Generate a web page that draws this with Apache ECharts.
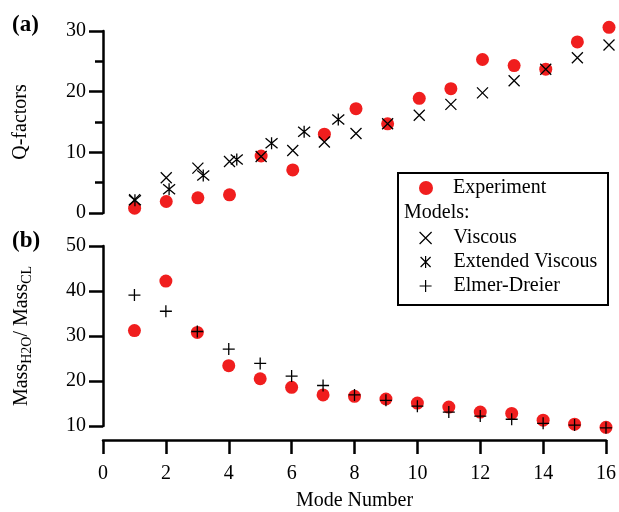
<!DOCTYPE html>
<html>
<head>
<meta charset="utf-8">
<script src="https://cdn.jsdelivr.net/npm/echarts@6/dist/echarts.min.js"></script>
<style>
  html, body { margin: 0; padding: 0; background: #fff; }
  #chart { width: 619px; height: 512px; }
</style>
</head>
<body>
<div id="chart"></div>
<script>
const FONT = 'Liberation Serif'
const RED = '#f01e1e'

// mode numbers shared by most series
const modes = [1, 2, 3, 4, 5, 6, 7, 8, 9, 10, 11, 12, 13, 14, 15, 16]

// (a) Q-factors
const qExperiment = [0.8, 1.9, 2.5, 3.0, 9.4, 7.1, 13.0, 17.2, 14.7, 18.9, 20.5, 25.3, 24.3, 23.7, 28.2, 30.6]
const qViscous = [2.2, 5.8, 7.4, 8.5, 9.3, 10.3, 11.7, 13.1, 14.7, 16.1, 17.9, 19.8, 21.8, 23.7, 25.6, 27.7]
const extModes = [1.01, 2.09, 3.17, 4.23, 5.33, 6.36, 7.44]
const qExtViscous = [2.1, 3.9, 6.2, 8.8, 11.5, 13.4, 15.4]

// (b) mass ratio
const massExperiment = [31.2, 42.2, 30.8, 23.4, 20.5, 18.6, 16.9, 16.6, 16.0, 15.1, 14.2, 13.1, 12.8, 11.3, 10.4, 9.7]
const massElmerDreier = [39.1, 35.5, 31.0, 27.1, 23.9, 21.1, 19.0, 16.9, 15.7, 14.4, 13.1, 12.2, 11.5, 10.6, 10.2, 9.6]

const X_PATH = 'path://M0,0L10,10M10,0L0,10'
const STAR_PATH = 'path://M0,1L10,11M10,1L0,11M5,0L5,12'
const PLUS_PATH = 'path://M0,6L12,6M6,0L6,12'

const zip = (xs, ys) => ys.map((y, i) => [xs[i], y])

const axisLine = { lineStyle: { color: '#000', width: 2.5 } }
const tickStyle = { color: '#000', width: 2.5 }
const labelStyle = { color: '#000', fontFamily: FONT, fontSize: 20 }
const strokeOnly = { color: 'rgba(0,0,0,0)', borderColor: '#000', borderWidth: 1.3, opacity: 1 }
const redDot = { color: RED, opacity: 1 }

const chart = echarts.init(document.getElementById('chart'))

chart.setOption({
  backgroundColor: '#fff',
  animation: false,
  textStyle: { fontFamily: FONT },
  grid: [
    { left: 103, top: 31, width: 506, height: 182 },
    { left: 103, top: 246, width: 506, height: 183 },
  ],
  xAxis: [
    { gridIndex: 0, type: 'value', min: 0, max: 16, show: false },
    {
      gridIndex: 1, type: 'value', min: 0, max: 16, interval: 2,
      position: 'bottom', offset: 14,
      axisLine: { onZero: false, ...axisLine },
      axisTick: { length: 14, lineStyle: tickStyle },
      axisLabel: { ...labelStyle, margin: 24 },
      splitLine: { show: false },
      name: 'Mode Number', nameLocation: 'middle', nameGap: 51,
      nameTextStyle: labelStyle,
    },
  ],
  yAxis: [
    {
      gridIndex: 0, type: 'value', min: 0, max: 30, interval: 10,
      axisLine: { show: true, ...axisLine },
      axisTick: { length: 14, lineStyle: tickStyle },
      minorTick: { show: true, splitNumber: 2, length: 8, lineStyle: tickStyle },
      axisLabel: { ...labelStyle, margin: 17 },
      splitLine: { show: false },
      name: 'Q-factors', nameLocation: 'middle', nameGap: 72,
      nameTextStyle: labelStyle,
    },
    {
      gridIndex: 1, type: 'value', min: 10, max: 50, interval: 10,
      axisLine: { show: true, ...axisLine },
      axisTick: { length: 14, lineStyle: tickStyle },
      axisLabel: { ...labelStyle, margin: 17 },
      splitLine: { show: false },
      name: '{m|Mass}{s|H2O}{m|/ Mass}{s|CL}', nameLocation: 'middle', nameGap: 69,
      nameTextStyle: {
        rich: {
          m: { fontFamily: FONT, fontSize: 20, color: '#000', verticalAlign: 'top' },
          s: { fontFamily: FONT, fontSize: 14, color: '#000', verticalAlign: 'top', padding: [8, 0, 0, 0] },
        },
      },
    },
  ],
  legend: [
    {
      data: ['Experiment'], left: 419, top: 176, padding: 0, z: 20,
      itemWidth: 14, itemHeight: 14, selectedMode: false,
      textStyle: { ...labelStyle, lineHeight: 24, padding: [0, 0, 0, 15] },
    },
    {
      data: ['Viscous', 'Extended Viscous', 'Elmer-Dreier'], orient: 'vertical',
      left: 419, top: 226, padding: 0, itemGap: 0, z: 20,
      itemWidth: 12, itemHeight: 12, selectedMode: false,
      itemStyle: { borderWidth: 1.2 },
      textStyle: { ...labelStyle, lineHeight: 24, padding: [0, 0, 0, 17] },
    },
  ],
  graphic: [
    { type: 'text', left: 12, top: 14, style: { text: '(a)', font: 'bold 23px "Liberation Serif"', fill: '#000' } },
    { type: 'text', left: 12, top: 230, style: { text: '(b)', font: 'bold 23px "Liberation Serif"', fill: '#000' } },
    { type: 'rect', shape: { x: 398, y: 173, width: 210, height: 132 }, style: { fill: '#fff', stroke: '#000', lineWidth: 2 }, z: 10 },
    { type: 'text', left: 404, top: 203, style: { text: 'Models:', font: '20px "Liberation Serif"', fill: '#000' }, z: 21 },
  ],
  series: [
    {
      name: 'Experiment', type: 'scatter', xAxisIndex: 0, yAxisIndex: 0,
      data: zip(modes, qExperiment), symbol: 'circle', symbolSize: 13,
      itemStyle: redDot, clip: false,
    },
    {
      name: 'Viscous', type: 'scatter', xAxisIndex: 0, yAxisIndex: 0,
      data: zip(modes, qViscous), symbol: X_PATH, symbolSize: 11,
      itemStyle: strokeOnly, clip: false, z: 3,
    },
    {
      name: 'Extended Viscous', type: 'scatter', xAxisIndex: 0, yAxisIndex: 0,
      data: zip(extModes, qExtViscous), symbol: STAR_PATH, symbolSize: 12,
      itemStyle: strokeOnly, clip: false, z: 3,
    },
    {
      name: 'Experiment', type: 'scatter', xAxisIndex: 1, yAxisIndex: 1,
      data: zip(modes, massExperiment), symbol: 'circle', symbolSize: 13,
      itemStyle: redDot, clip: false,
    },
    {
      name: 'Elmer-Dreier', type: 'scatter', xAxisIndex: 1, yAxisIndex: 1,
      data: zip(modes, massElmerDreier), symbol: PLUS_PATH, symbolSize: 12,
      itemStyle: strokeOnly, clip: false, z: 3,
    },
  ],
})
</script>
</body>
</html>
